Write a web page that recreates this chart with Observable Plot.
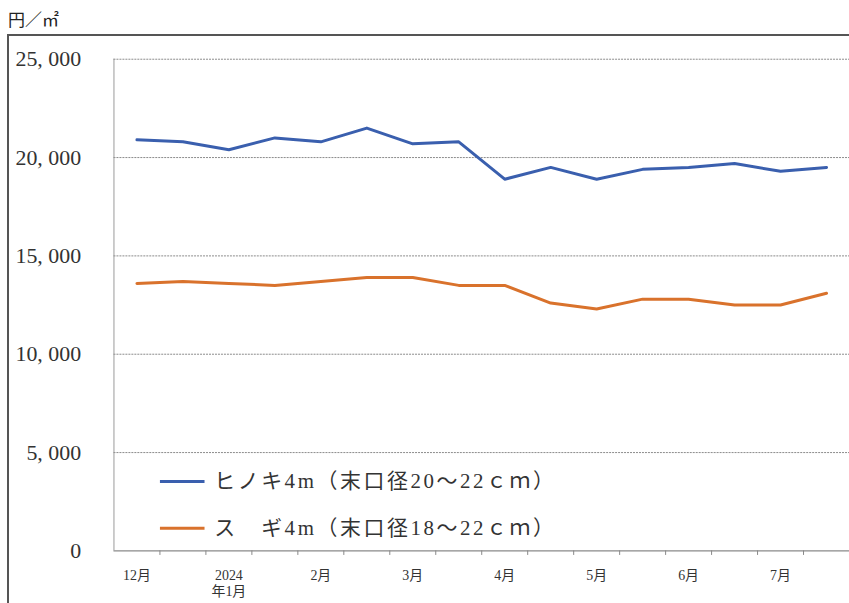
<!DOCTYPE html>
<html><head><meta charset="utf-8">
<script src="https://cdn.jsdelivr.net/npm/d3@7"></script>
<script src="https://cdn.jsdelivr.net/npm/@observablehq/plot@0.6"></script>
<style>
html,body{margin:0;padding:0;background:#fff;overflow:hidden;width:849px;height:603px;}
#wrap{position:relative;width:849px;height:603px;overflow:hidden;}
#unit{position:absolute;left:8px;top:6px;font:17px "Noto Sans CJK JP","Noto Sans",sans-serif;color:#222;}
#frame{position:absolute;left:7px;top:34px;width:900px;height:700px;border:2px solid #555;box-sizing:border-box;}
#chart{position:absolute;left:0;top:0;}
</style></head>
<body><div id="wrap"><div id="unit">円／㎡</div><div id="frame"></div><div id="chart"></div></div>
<script>
const periods = ["12月","","2024\n年1月","","2月","","3月","","4月","","5月","","6月","","7月",""];
const hinoki = [20900,20800,20400,21000,20800,21500,20700,20800,18900,19500,18900,19400,19500,19700,19300,19500];
const sugi = [13600,13700,13600,13500,13700,13900,13900,13500,13500,12600,12300,12800,12800,12500,12500,13100];
const seriesNames = ["ヒノキ4m（末口径20～22ｃｍ）","ス　ギ4m（末口径18～22ｃｍ）"];
const colors = ["#3a5fae","#d9722c"];
const yTicks = [0,5000,10000,15000,20000,25000];

const rows = [];
hinoki.forEach((v,i)=>rows.push({i, v, s: seriesNames[0]}));
sugi.forEach((v,i)=>rows.push({i, v, s: seriesNames[1]}));
const boundaries = periods.map((_,i)=>i+0.5);
const labelIdx = periods.map((p,i)=>i).filter(i=>periods[i] !== "");
const fmt = v => v === 0 ? "0" : d3.format(",")(v).replace(",", ", ");

const legendRows = seriesNames.map((s,k)=>({s, y: [3530, 1150][k]}));

const plot = Plot.plot({
  width: 853, height: 603,
  marginLeft: 114, marginRight: 0, marginTop: 59, marginBottom: 50,
  style: {fontFamily: "'Liberation Serif','Noto Sans CJK JP',serif", background: "transparent"},
  x: {type: "linear", domain: [-0.5, periods.length - 0.5], axis: null},
  y: {type: "linear", domain: [0, 25000], axis: null},
  color: {domain: seriesNames, range: colors},
  marks: [
    Plot.ruleY(yTicks.filter(t=>t>0), {y: d=>d, stroke: "#8a8a8a", strokeWidth: 1, strokeDasharray: "2,1"}),
    Plot.ruleY([0], {y: d=>d, stroke: "#8a8a8a", strokeWidth: 1.2}),
    Plot.ruleX([-0.5], {x: d=>d, y1: 0, y2: 25000, stroke: "#9a9a9a", strokeWidth: 1}),
    Plot.ruleX(boundaries, {x: d=>d, y1: 0, y2: -230, stroke: "#888"}),
    Plot.text(yTicks, {x: -0.5, y: d=>d, text: fmt, dx: -33, textAnchor: "end", fontSize: 22, fill: "#333"}),
    Plot.text(labelIdx, {x: d=>d, y: 0, text: d=>periods[d], dy: 17, lineAnchor: "top", lineHeight: 1.2, fontSize: 14, fill: "#333"}),
    Plot.line(rows, {x: "i", y: "v", z: "s", stroke: "s", strokeWidth: 3, curve: "linear"}),
    Plot.link(legendRows, {x1: 0.5, x2: 1.47, y1: "y", y2: "y", stroke: "s", strokeWidth: 3}),
    Plot.text(legendRows, {x: 1.68, y: "y", text: "s", textAnchor: "start", fontSize: 21, fill: "#333"})
  ]
});
plot.querySelectorAll("text").forEach(t=>{ if (t.textContent.includes("末口径")) t.setAttribute("letter-spacing","2.6"); });
document.getElementById("chart").appendChild(plot);
</script></body></html>
